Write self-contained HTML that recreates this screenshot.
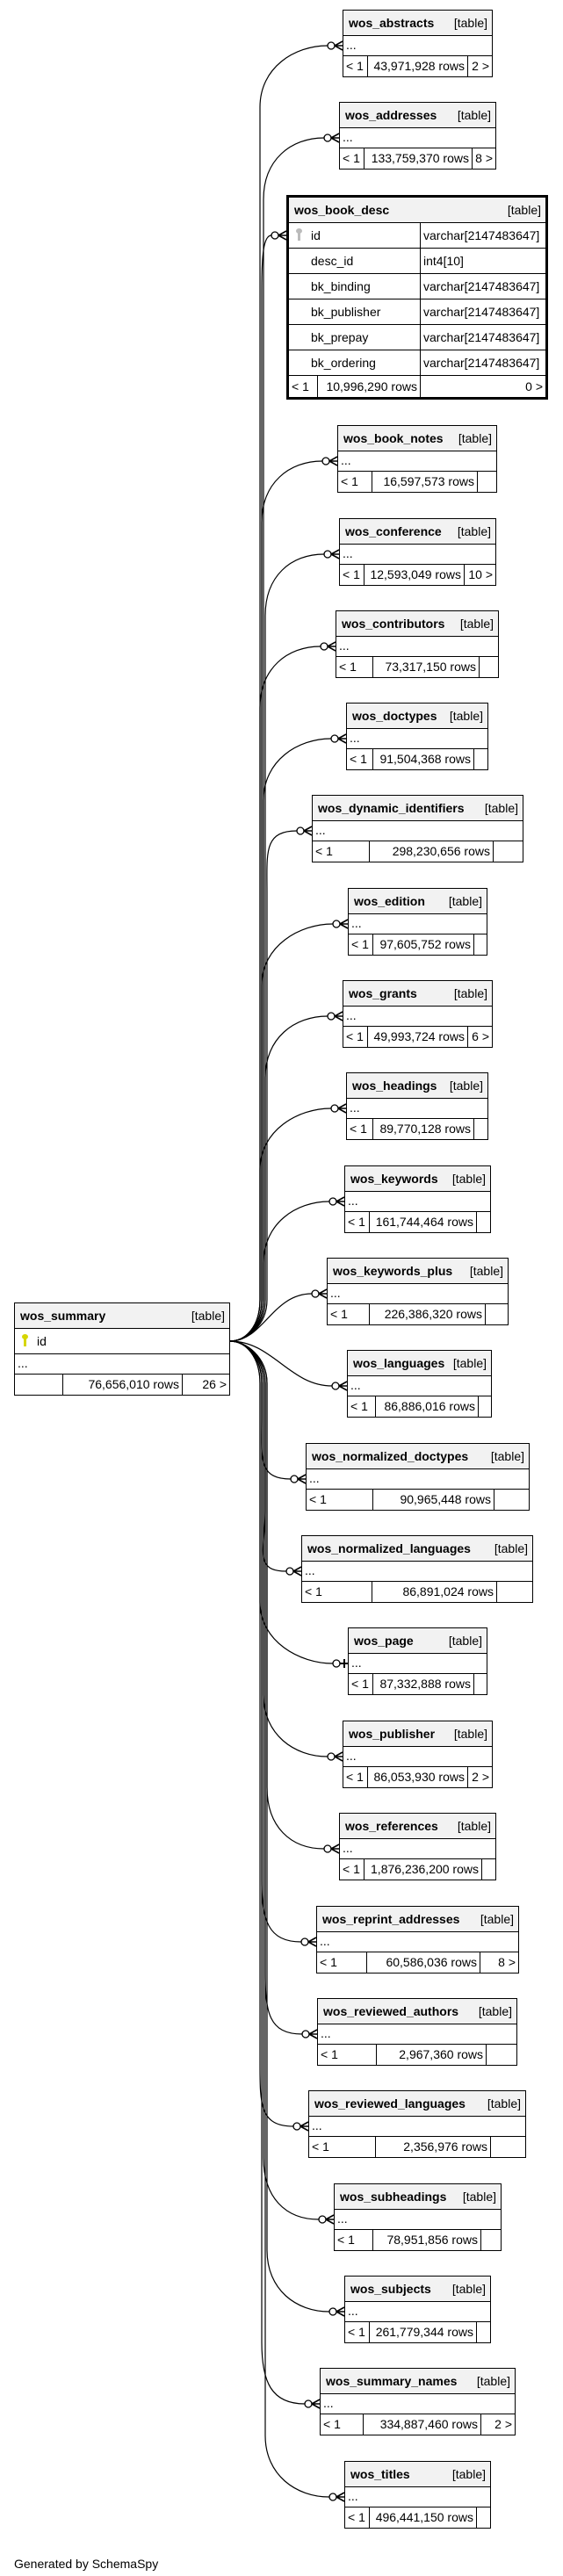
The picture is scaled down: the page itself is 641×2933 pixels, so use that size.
<!DOCTYPE html>
<html><head><meta charset="utf-8"><style>
body{margin:0;width:641px;height:2933px;position:relative;background:#fff;font-family:"Liberation Sans",Arial,sans-serif;font-size:14px;color:#000;overflow:hidden}
svg{position:absolute;left:0;top:0}
.t{position:absolute;border:1px solid #000;box-sizing:border-box;background:#fff;height:77px}
.h{height:28px;background:#f2f2f2;border-bottom:1px solid #000;display:flex;justify-content:space-between;align-items:center;padding:0 5px 0 6px;white-space:nowrap}
.h b{font-weight:bold}
.d{height:22px;border-bottom:1px solid #000;line-height:20px;padding-left:3px}
.f{height:23px;display:flex;white-space:nowrap}
.f span{border-right:1px solid #000;line-height:23px;padding:0 3px;text-align:right;box-sizing:border-box;flex:none}
.f span:first-child{text-align:left}
.f span:last-child{border-right:none;flex:1}
.bd{position:absolute;left:326px;top:222px;width:298px;height:233px;border:3px solid #000;box-sizing:border-box;background:#fff}
.bd .h{height:28px}
.r{height:28px;border-bottom:1px solid #000;display:flex;line-height:28px;white-space:nowrap}
.r span:first-child{width:150px;border-right:1px solid #000;padding-left:25px;box-sizing:border-box;position:relative}
.r span:last-child{padding-left:3px}
.key{position:absolute;left:10px;top:7px;width:3px;height:13px;background:#bbb}
.key:before{content:"";position:absolute;left:-2px;top:-1px;width:7px;height:6px;border-radius:50%;background:#bbb}
.ykey,.ykey:before{background:#d6d600}
#gen{position:absolute;left:16px;top:2911px;font-size:14px}
</style></head><body>
<svg width="641" height="2933" fill="none" stroke="#000" stroke-width="1.2">
<path d="M262,1527 C280,1527 296,1510 296,1480 L296,122 C296,77 335,52 373,52"/>
<path d="M262,1527 C280,1527 300,1510 300,1480 L300,227 C300,182 331,157 369,157"/>
<path d="M262,1527 C280,1527 298,1510 298,1480 L298,330 C298,290 300,268 309,268"/>
<path d="M262,1527 C280,1527 298,1510 298,1480 L298,595 C298,550 329,525 367,525"/>
<path d="M262,1527 C280,1527 302,1510 302,1480 L302,701 C302,656 331,631 369,631"/>
<path d="M262,1527 C280,1527 296,1510 296,1480 L296,806 C296,761 327,736 365,736"/>
<path d="M262,1527 C280,1527 300,1510 300,1480 L300,911 C300,866 339,841 377,841"/>
<path d="M262,1527 C280,1527 304,1510 304,1480 L304,1016 C304,971 300,946 338,946"/>
<path d="M262,1527 C280,1527 298,1510 298,1480 L298,1122 C298,1077 341,1052 379,1052"/>
<path d="M262,1527 C280,1527 302,1510 302,1480 L302,1227 C302,1182 335,1157 373,1157"/>
<path d="M262,1527 C280,1527 296,1510 296,1480 L296,1332 C296,1287 339,1262 377,1262"/>
<path d="M262,1527 C280,1527 300,1510 300,1480 L300,1438 C300,1393 337,1368 375,1368"/>
<path d="M262,1527 C300,1527 310,1473 355,1473"/>
<path d="M262,1527 C310,1527 330,1578 378,1578"/>
<path d="M262,1527 C280,1527 298,1545 298,1575 L298,1614 C298,1659 293,1684 331,1684"/>
<path d="M262,1527 C280,1527 302,1545 302,1575 L302,1719 C302,1764 288,1789 326,1789"/>
<path d="M262,1527 C280,1527 296,1545 296,1575 L296,1824 C296,1869 341,1894 379,1894"/>
<path d="M262,1527 C280,1527 300,1545 300,1575 L300,1930 C300,1975 335,2000 373,2000"/>
<path d="M262,1527 C280,1527 304,1545 304,1575 L304,2035 C304,2080 331,2105 369,2105"/>
<path d="M262,1527 C280,1527 298,1545 298,1575 L298,2141 C298,2186 305,2211 343,2211"/>
<path d="M262,1527 C280,1527 302,1545 302,1575 L302,2246 C302,2291 306,2316 344,2316"/>
<path d="M262,1527 C280,1527 296,1545 296,1575 L296,2351 C296,2396 296,2421 334,2421"/>
<path d="M262,1527 C280,1527 300,1545 300,1575 L300,2457 C300,2502 325,2527 363,2527"/>
<path d="M262,1527 C280,1527 304,1545 304,1575 L304,2562 C304,2607 337,2632 375,2632"/>
<path d="M262,1527 C280,1527 298,1545 298,1575 L298,2667 C298,2712 309,2737 347,2737"/>
<path d="M262,1527 C280,1527 302,1545 302,1575 L302,2773 C302,2818 337,2843 375,2843"/>
<g fill="#fff" stroke-width="1.3">
<circle cx="377" cy="52" r="4"/><circle cx="373" cy="157" r="4"/><circle cx="313" cy="268" r="4"/>
<circle cx="371" cy="525" r="4"/><circle cx="373" cy="631" r="4"/><circle cx="369" cy="736" r="4"/>
<circle cx="381" cy="841" r="4"/><circle cx="342" cy="946" r="4"/><circle cx="383" cy="1052" r="4"/>
<circle cx="377" cy="1157" r="4"/><circle cx="381" cy="1262" r="4"/><circle cx="379" cy="1368" r="4"/>
<circle cx="359" cy="1473" r="4"/><circle cx="382" cy="1578" r="4"/><circle cx="335" cy="1684" r="4"/>
<circle cx="330" cy="1789" r="4"/><circle cx="383" cy="1894" r="4"/><circle cx="377" cy="2000" r="4"/>
<circle cx="373" cy="2105" r="4"/><circle cx="347" cy="2211" r="4"/><circle cx="348" cy="2316" r="4"/>
<circle cx="338" cy="2421" r="4"/><circle cx="367" cy="2527" r="4"/><circle cx="379" cy="2632" r="4"/>
<circle cx="351" cy="2737" r="4"/><circle cx="379" cy="2843" r="4"/>
</g>
<g stroke-width="1.6">
<path d="M381,52 L390,47 M381,52 L390,52 M381,52 L390,57"/>
<path d="M377,157 L386,152 M377,157 L386,157 M377,157 L386,162"/>
<path d="M317,268 L326,263 M317,268 L326,268 M317,268 L326,273"/>
<path d="M375,525 L384,520 M375,525 L384,525 M375,525 L384,530"/>
<path d="M377,631 L386,626 M377,631 L386,631 M377,631 L386,636"/>
<path d="M373,736 L382,731 M373,736 L382,736 M373,736 L382,741"/>
<path d="M385,841 L394,836 M385,841 L394,841 M385,841 L394,846"/>
<path d="M346,946 L355,941 M346,946 L355,946 M346,946 L355,951"/>
<path d="M387,1052 L396,1047 M387,1052 L396,1052 M387,1052 L396,1057"/>
<path d="M381,1157 L390,1152 M381,1157 L390,1157 M381,1157 L390,1162"/>
<path d="M385,1262 L394,1257 M385,1262 L394,1262 M385,1262 L394,1267"/>
<path d="M383,1368 L392,1363 M383,1368 L392,1368 M383,1368 L392,1373"/>
<path d="M363,1473 L372,1468 M363,1473 L372,1473 M363,1473 L372,1478"/>
<path d="M386,1578 L395,1573 M386,1578 L395,1578 M386,1578 L395,1583"/>
<path d="M339,1684 L348,1679 M339,1684 L348,1684 M339,1684 L348,1689"/>
<path d="M334,1789 L343,1784 M334,1789 L343,1789 M334,1789 L343,1794"/>
<path d="M387,1894 L396,1894 M392,1889 L392,1899" stroke-width="2"/>
<path d="M381,2000 L390,1995 M381,2000 L390,2000 M381,2000 L390,2005"/>
<path d="M377,2105 L386,2100 M377,2105 L386,2105 M377,2105 L386,2110"/>
<path d="M351,2211 L360,2206 M351,2211 L360,2211 M351,2211 L360,2216"/>
<path d="M352,2316 L361,2311 M352,2316 L361,2316 M352,2316 L361,2321"/>
<path d="M342,2421 L351,2416 M342,2421 L351,2421 M342,2421 L351,2426"/>
<path d="M371,2527 L380,2522 M371,2527 L380,2527 M371,2527 L380,2532"/>
<path d="M383,2632 L392,2627 M383,2632 L392,2632 M383,2632 L392,2637"/>
<path d="M355,2737 L364,2732 M355,2737 L364,2737 M355,2737 L364,2742"/>
<path d="M383,2843 L392,2838 M383,2843 L392,2843 M383,2843 L392,2848"/>
</g>
</svg>

<div class="t" style="left:390px;top:11px;width:171px"><div class="h"><b>wos_abstracts</b><span>[table]</span></div><div class="d">...</div><div class="f"><span style="width:28px">&lt; 1</span><span style="width:114px">43,971,928 rows</span><span>2 &gt;</span></div></div>
<div class="t" style="left:386px;top:116px;width:179px"><div class="h"><b>wos_addresses</b><span>[table]</span></div><div class="d">...</div><div class="f"><span style="width:28px">&lt; 1</span><span style="width:123px">133,759,370 rows</span><span>8 &gt;</span></div></div>

<div class="bd"><div class="h"><b>wos_book_desc</b><span>[table]</span></div>
<div class="r"><span><i class="key"></i>id</span><span>varchar[2147483647]</span></div>
<div class="r"><span>desc_id</span><span>int4[10]</span></div>
<div class="r"><span>bk_binding</span><span>varchar[2147483647]</span></div>
<div class="r"><span>bk_publisher</span><span>varchar[2147483647]</span></div>
<div class="r"><span>bk_prepay</span><span>varchar[2147483647]</span></div>
<div class="r"><span>bk_ordering</span><span>varchar[2147483647]</span></div>
<div class="f" style="height:25px"><span style="width:33px;line-height:24px">&lt; 1</span><span style="width:117px;line-height:24px;border-right:1px solid #000">10,996,290 rows</span><span style="line-height:24px;text-align:right">0 &gt;</span></div>
</div>

<div class="t" style="left:384px;top:484px;width:182px"><div class="h"><b>wos_book_notes</b><span>[table]</span></div><div class="d">...</div><div class="f"><span style="width:39px">&lt; 1</span><span style="width:120px">16,597,573 rows</span><span></span></div></div>
<div class="t" style="left:386px;top:590px;width:179px"><div class="h"><b>wos_conference</b><span>[table]</span></div><div class="d">...</div><div class="f"><span style="width:28px">&lt; 1</span><span style="width:114px">12,593,049 rows</span><span>10 &gt;</span></div></div>
<div class="t" style="left:382px;top:695px;width:186px"><div class="h"><b>wos_contributors</b><span>[table]</span></div><div class="d">...</div><div class="f"><span style="width:42px">&lt; 1</span><span style="width:121px">73,317,150 rows</span><span></span></div></div>
<div class="t" style="left:394px;top:800px;width:162px"><div class="h"><b>wos_doctypes</b><span>[table]</span></div><div class="d">...</div><div class="f"><span style="width:30px">&lt; 1</span><span style="width:115px">91,504,368 rows</span><span></span></div></div>
<div class="t" style="left:355px;top:905px;width:241px"><div class="h"><b>wos_dynamic_identifiers</b><span>[table]</span></div><div class="d">...</div><div class="f"><span style="width:65px">&lt; 1</span><span style="width:141px">298,230,656 rows</span><span></span></div></div>
<div class="t" style="left:396px;top:1011px;width:159px"><div class="h"><b>wos_edition</b><span>[table]</span></div><div class="d">...</div><div class="f"><span style="width:28px">&lt; 1</span><span style="width:115px">97,605,752 rows</span><span></span></div></div>
<div class="t" style="left:390px;top:1116px;width:171px"><div class="h"><b>wos_grants</b><span>[table]</span></div><div class="d">...</div><div class="f"><span style="width:28px">&lt; 1</span><span style="width:114px">49,993,724 rows</span><span>6 &gt;</span></div></div>
<div class="t" style="left:394px;top:1221px;width:162px"><div class="h"><b>wos_headings</b><span>[table]</span></div><div class="d">...</div><div class="f"><span style="width:30px">&lt; 1</span><span style="width:115px">89,770,128 rows</span><span></span></div></div>
<div class="t" style="left:392px;top:1327px;width:167px"><div class="h"><b>wos_keywords</b><span>[table]</span></div><div class="d">...</div><div class="f"><span style="width:28px">&lt; 1</span><span style="width:122px">161,744,464 rows</span><span></span></div></div>
<div class="t" style="left:372px;top:1432px;width:207px"><div class="h"><b>wos_keywords_plus</b><span>[table]</span></div><div class="d">...</div><div class="f"><span style="width:48px">&lt; 1</span><span style="width:132px">226,386,320 rows</span><span></span></div></div>
<div class="t" style="left:395px;top:1537px;width:165px"><div class="h"><b>wos_languages</b><span>[table]</span></div><div class="d">...</div><div class="f"><span style="width:32px">&lt; 1</span><span style="width:117px">86,886,016 rows</span><span></span></div></div>
<div class="t" style="left:348px;top:1643px;width:255px"><div class="h"><b>wos_normalized_doctypes</b><span>[table]</span></div><div class="d">...</div><div class="f"><span style="width:76px">&lt; 1</span><span style="width:138px">90,965,448 rows</span><span></span></div></div>
<div class="t" style="left:343px;top:1748px;width:264px"><div class="h"><b>wos_normalized_languages</b><span>[table]</span></div><div class="d">...</div><div class="f"><span style="width:80px">&lt; 1</span><span style="width:142px">86,891,024 rows</span><span></span></div></div>
<div class="t" style="left:396px;top:1853px;width:159px"><div class="h"><b>wos_page</b><span>[table]</span></div><div class="d">...</div><div class="f"><span style="width:28px">&lt; 1</span><span style="width:115px">87,332,888 rows</span><span></span></div></div>
<div class="t" style="left:390px;top:1959px;width:171px"><div class="h"><b>wos_publisher</b><span>[table]</span></div><div class="d">...</div><div class="f"><span style="width:28px">&lt; 1</span><span style="width:114px">86,053,930 rows</span><span>2 &gt;</span></div></div>
<div class="t" style="left:386px;top:2064px;width:179px"><div class="h"><b>wos_references</b><span>[table]</span></div><div class="d">...</div><div class="f"><span style="width:28px">&lt; 1</span><span style="width:134px">1,876,236,200 rows</span><span></span></div></div>
<div class="t" style="left:360px;top:2170px;width:231px"><div class="h"><b>wos_reprint_addresses</b><span>[table]</span></div><div class="d">...</div><div class="f"><span style="width:57px">&lt; 1</span><span style="width:129px">60,586,036 rows</span><span>8 &gt;</span></div></div>
<div class="t" style="left:361px;top:2275px;width:228px"><div class="h"><b>wos_reviewed_authors</b><span>[table]</span></div><div class="d">...</div><div class="f"><span style="width:67px">&lt; 1</span><span style="width:125px">2,967,360 rows</span><span></span></div></div>
<div class="t" style="left:351px;top:2380px;width:248px"><div class="h"><b>wos_reviewed_languages</b><span>[table]</span></div><div class="d">...</div><div class="f"><span style="width:76px">&lt; 1</span><span style="width:131px">2,356,976 rows</span><span></span></div></div>
<div class="t" style="left:380px;top:2486px;width:191px"><div class="h"><b>wos_subheadings</b><span>[table]</span></div><div class="d">...</div><div class="f"><span style="width:44px">&lt; 1</span><span style="width:123px">78,951,856 rows</span><span></span></div></div>
<div class="t" style="left:392px;top:2591px;width:167px"><div class="h"><b>wos_subjects</b><span>[table]</span></div><div class="d">...</div><div class="f"><span style="width:28px">&lt; 1</span><span style="width:122px">261,779,344 rows</span><span></span></div></div>
<div class="t" style="left:364px;top:2696px;width:223px"><div class="h"><b>wos_summary_names</b><span>[table]</span></div><div class="d">...</div><div class="f"><span style="width:49px">&lt; 1</span><span style="width:134px">334,887,460 rows</span><span>2 &gt;</span></div></div>
<div class="t" style="left:392px;top:2802px;width:167px"><div class="h"><b>wos_titles</b><span>[table]</span></div><div class="d">...</div><div class="f"><span style="width:28px">&lt; 1</span><span style="width:122px">496,441,150 rows</span><span></span></div></div>

<div class="t" style="left:16px;top:1483px;width:246px;height:106px"><div class="h"><b>wos_summary</b><span>[table]</span></div>
<div style="height:28px;border-bottom:1px solid #000;line-height:28px;padding-left:25px;position:relative"><i class="key ykey"></i>id</div>
<div class="d">...</div>
<div class="f"><span style="width:55px"></span><span style="width:136px">76,656,010 rows</span><span>26 &gt;</span></div></div>

<div id="gen">Generated by SchemaSpy</div>
</body></html>
